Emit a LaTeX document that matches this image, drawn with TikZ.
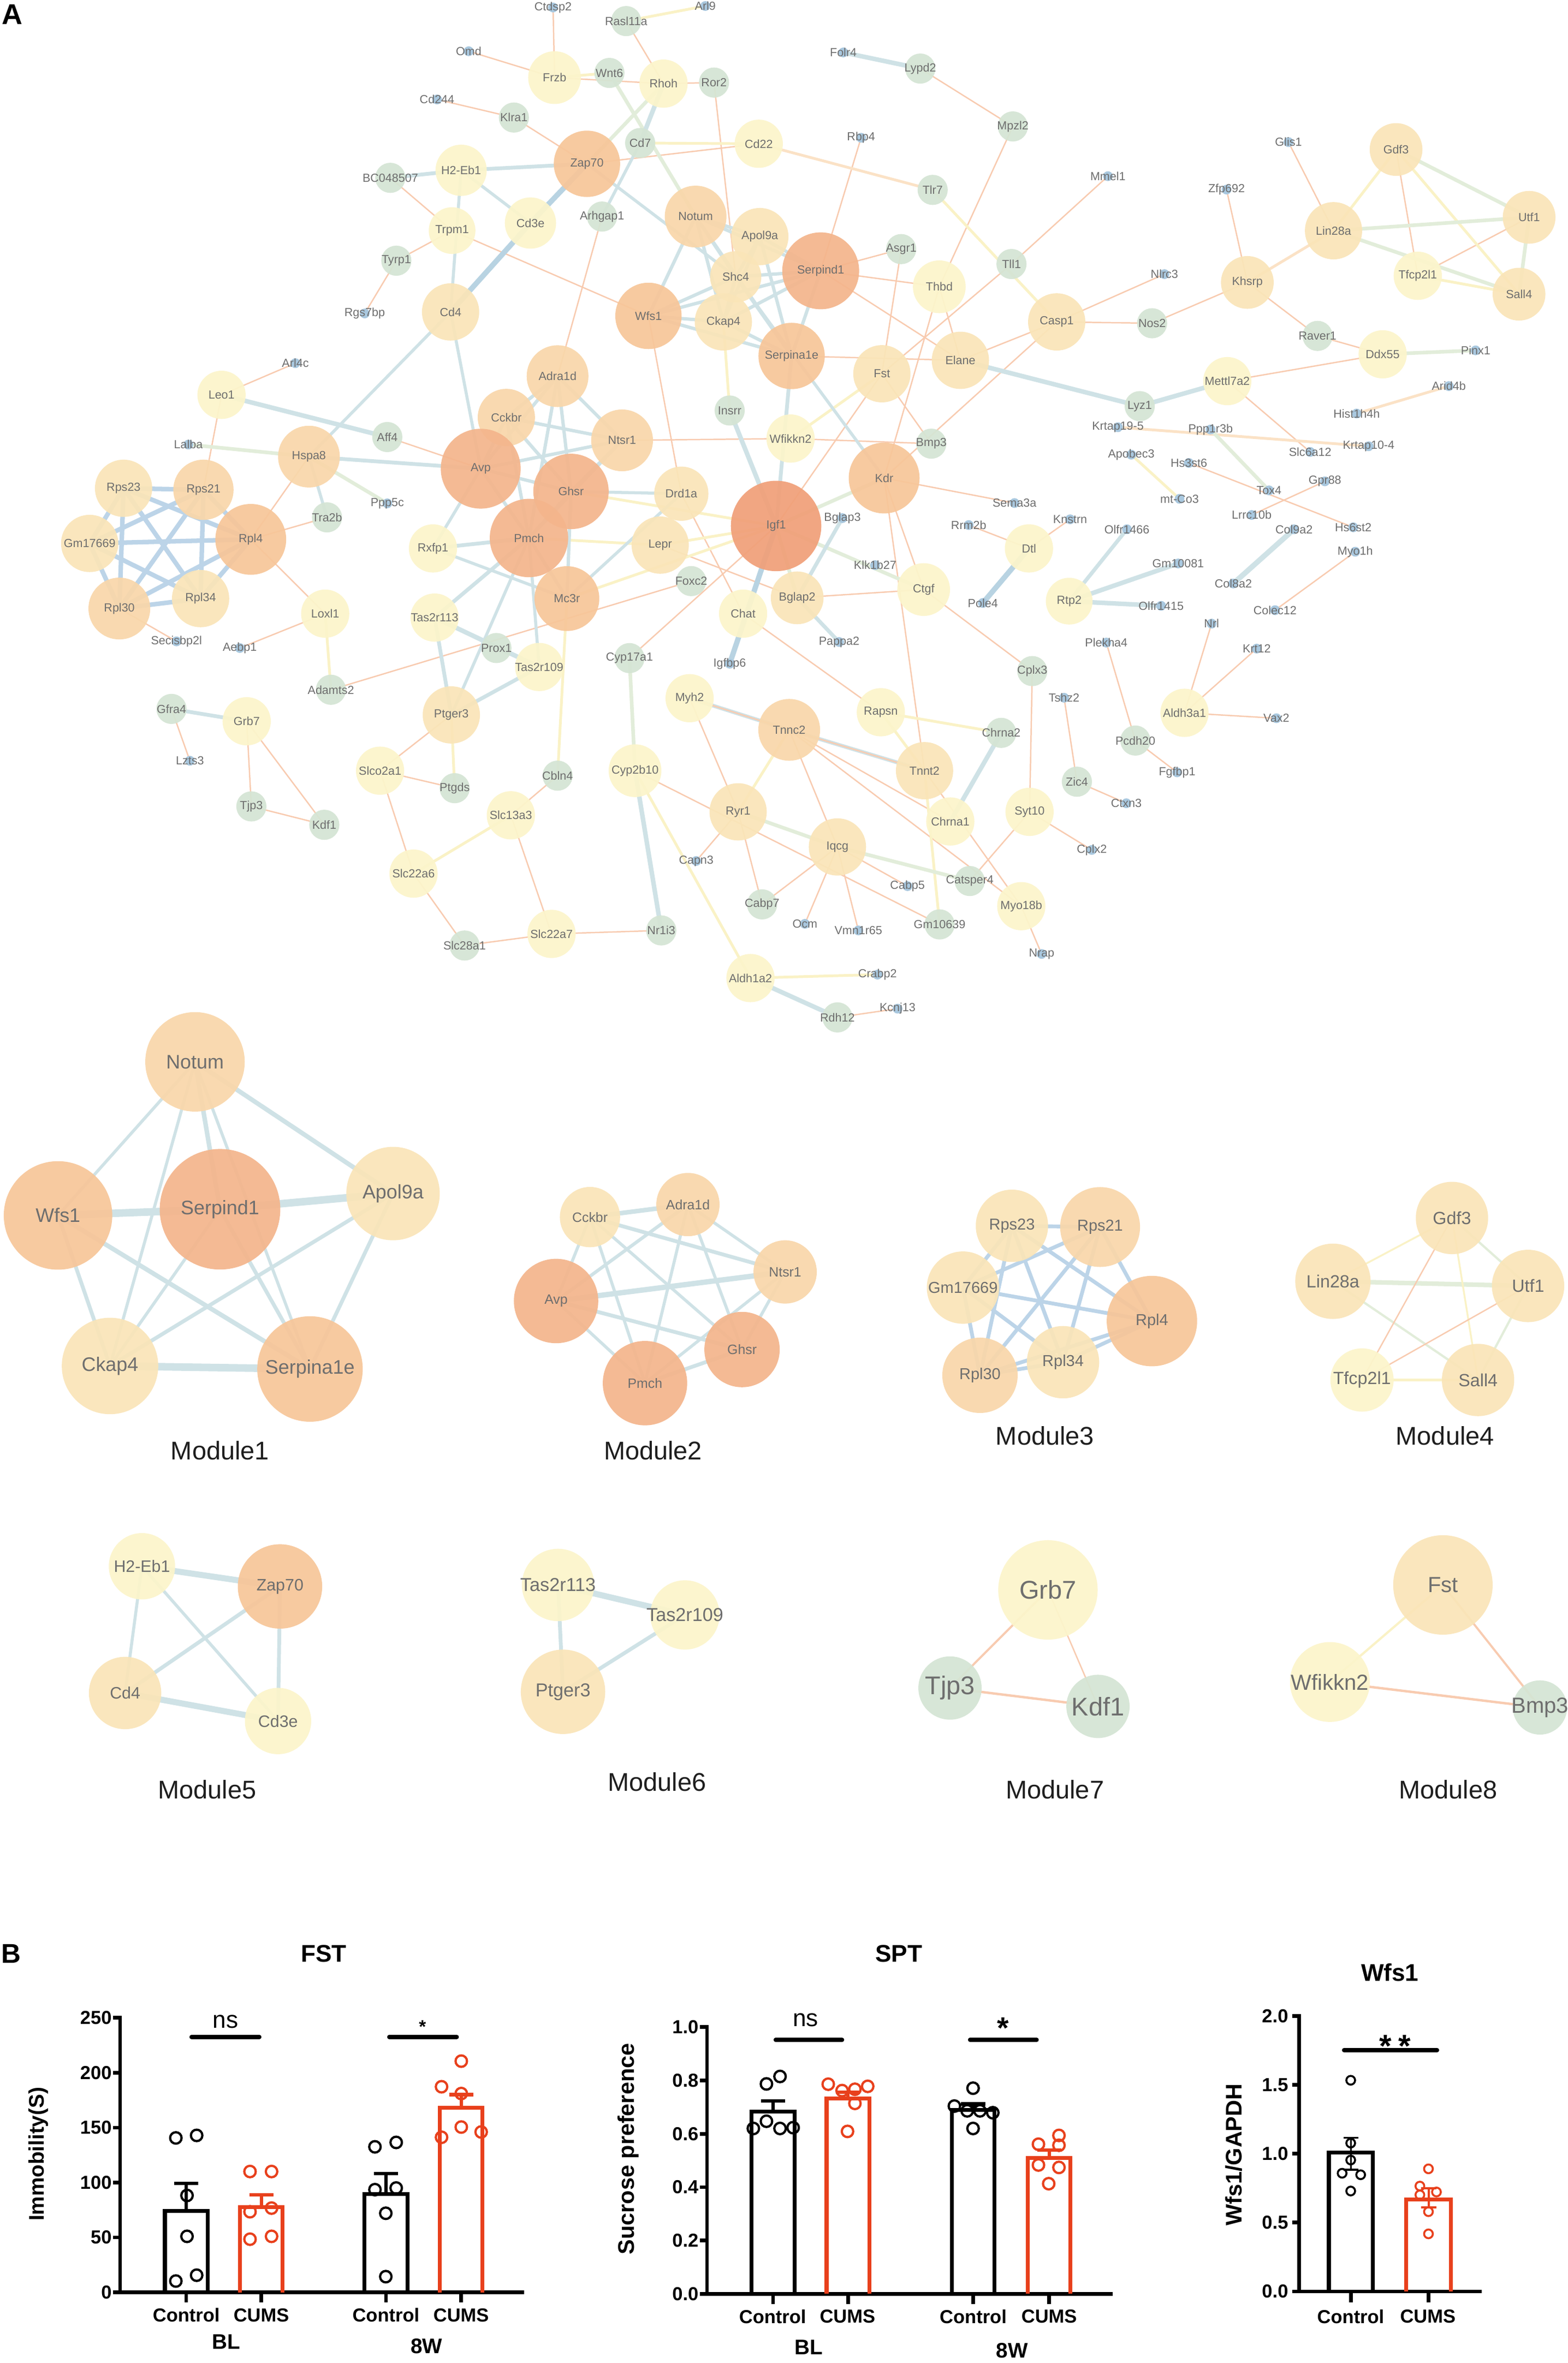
\documentclass[tikz,border=0pt]{standalone}
\usepackage{fontspec}
\setmainfont{Liberation Sans}
\pgfdeclarelayer{bgw}
\pgfdeclarelayer{edges}
\pgfsetlayers{bgw,edges,main}
\definecolor{lab}{HTML}{6E6E6E}
\definecolor{cO1}{HTML}{F1A079}
\definecolor{cO2}{HTML}{F4B58C}
\definecolor{cO3}{HTML}{F7C699}
\definecolor{cO4}{HTML}{F9D7AA}
\definecolor{cY1}{HTML}{FAE5B8}
\definecolor{cY2}{HTML}{FCF5CB}
\definecolor{cGR}{HTML}{D5E5D4}
\definecolor{cBD}{HTML}{A9C8DF}
\definecolor{cEB}{HTML}{CFE2E6}
\definecolor{cEBD}{HTML}{B8D3E2}
\definecolor{cEBL}{HTML}{BCD4E8}
\definecolor{cEO}{HTML}{F8CBB0}
\definecolor{cEOY}{HTML}{FBE2C6}
\definecolor{cEY}{HTML}{FAF2C6}
\definecolor{cEG}{HTML}{E2EDDA}
\definecolor{cRed}{HTML}{E8401C}
\definecolor{ttl}{HTML}{1E1E1E}
\newcommand\netf{\fontsize{7.8}{8}\selectfont}
\newcommand\fsz[1]{\fontsize{#1}{#1}\selectfont}
\tikzset{
 gn/.style={circle, inner sep=0pt, draw=none, fill opacity=0.93},
 dotn/.style={circle, inner sep=0pt, minimum size=6.5pt, fill=cBD, draw=none},
 dl/.style={inner sep=0pt, text=lab, font=\netf},
 eo/.style={draw=cEO, line width=0.9pt},
 eoy/.style={draw=cEOY, line width=1.8pt},
 ey/.style={draw=cEY, line width=1.8pt},
 eg/.style={draw=cEG, line width=2.4pt},
 eb/.style={draw=cEB, line width=#1pt}, eb/.default=2,
 ebd/.style={draw=cEBD, line width=#1pt}, ebd/.default=3,
 ebl/.style={draw=cEBL, line width=#1pt}, ebl/.default=3,
 ax/.style={line width=2.4pt, black, line cap=rect},
 barK/.style={line width=2.6pt, black, line join=miter},
 barR/.style={line width=2.6pt, cRed, line join=miter},
 errK/.style={line width=2.2pt, black},
 errR/.style={line width=2.2pt, cRed},
 ptK/.style={line width=1.5pt, black},
 ptR/.style={line width=1.5pt, cRed},
 sig/.style={line width=2.8pt, line cap=round, black},
 tickl/.style={font=\bfseries\fsz{12.5}, anchor=east, inner sep=0pt},
 xl/.style={font=\bfseries\fsz{12.5}, inner sep=0pt},
 gl/.style={font=\bfseries\fsz{14}, inner sep=0pt},
 ttlf/.style={font=\bfseries\fsz{16}, inner sep=0pt},
 modt/.style={font=\fsz{17}, text=ttl, inner sep=0pt}
}
\newcommand\NN[6]{\node[gn,minimum size=#4pt,fill=#5] (#1) at (#2,#3) {}; \node[dl] (#1-t) at (#1) {#6};}
\newcommand\GG[4]{\NN{#1}{#2}{#3}{20}{cGR}{#4}}
\newcommand\DD[4]{\node[dotn] (#1) at (#2,#3) {}; \node[dl] (#1-t) at (#1) {#4};}
\newcommand\MM[7]{\node[gn,minimum size=#4pt,fill=#5] (#1) at (#2,#3) {}; \node[dl,font=\fsz{#7}] (#1-t) at (#1) {#6};}
\newcommand\EE[3]{\draw[#1] (#2.center) -- (#3.center);}
\newcommand\FY[1]{{1521.1-(#1)*0.7288}}
\newcommand\SY[1]{{1522.1-(#1)*177}}
\newcommand\WY[1]{{1520.5-(#1)*91.4}}
\begin{document}
\begin{tikzpicture}[x=1pt,y=-1pt]
\useasboundingbox (0,0) rectangle (1040.5,1568);
\begin{pgfonlayer}{bgw}
\fill[white] (0,0) rectangle (1040.5,1568);
\end{pgfonlayer}
\node[font=\bfseries\fsz{19}, inner sep=0pt] (labA) at (8.3,9.5) {A};
\node[font=\bfseries\fsz{18}, inner sep=0pt] (labB) at (7.5,1296.3) {B};
% ================= network nodes
\DD{Omd}{311}{34}{Omd}
\DD{Cd244}{290}{66}{Cd244}
\GG{Klra1}{341}{78}{Klra1}
\NN{H2Eb1}{306}{113}{34}{cY2}{H2-Eb1}
\GG{BC048507}{259}{118}{BC048507}
\NN{Trpm1}{300}{153}{31}{cY2}{Trpm1}
\NN{Cd3e}{352}{148}{34}{cY2}{Cd3e}
\GG{Tyrp1}{263}{173}{Tyrp1}
\DD{Rgs7bp}{242}{208}{Rgs7bp}
\NN{Cd4}{299}{207}{38}{cY1}{Cd4}
\DD{Arl4c}{196}{241}{Arl4c}
\NN{Leo1}{147}{262}{32}{cY2}{Leo1}
\DD{Lalba}{125}{295}{Lalba}
\GG{Aff4}{257}{290}{Aff4}
\NN{Hspa8}{205}{303}{41}{cO4}{Hspa8}
\NN{Cckbr}{336}{277}{38}{cO4}{Cckbr}
\NN{Avp}{319}{311}{53}{cO2}{Avp}
\NN{Rps23}{82}{324}{38}{cY1}{Rps23}
\NN{Rps21}{135}{325}{40}{cO4}{Rps21}
\DD{Ppp5c}{257}{334}{Ppp5c}
\DD{Ctdsp2}{367}{5}{Ctdsp2}
\DD{Arl9}{468}{4}{Arl9}
\GG{Rasl11a}{415.5}{14}{Rasl11a}
\NN{Frzb}{368}{51.5}{35}{cY2}{Frzb}
\GG{Wnt6}{404.4}{48.4}{Wnt6}
\NN{Rhoh}{440.3}{55.5}{32}{cY2}{Rhoh}
\GG{Ror2}{473.8}{54.8}{Ror2}
\DD{Folr4}{559.6}{34.8}{Folr4}
\GG{Lypd2}{610.7}{45.5}{Lypd2}
\GG{Mpzl2}{672.1}{83.9}{Mpzl2}
\GG{Cd7}{424.8}{94.9}{Cd7}
\NN{Cd22}{503.5}{95.4}{32}{cY2}{Cd22}
\DD{Rbp4}{571.4}{91.4}{Rbp4}
\NN{Zap70}{389.5}{108.7}{44}{cO3}{Zap70}
\GG{Tlr7}{618.9}{126}{Tlr7}
\GG{Arhgap1}{399.5}{143.7}{Arhgap1}
\NN{Notum}{461.6}{143.7}{41}{cO4}{Notum}
\NN{Apol9a}{504.2}{157}{38}{cY1}{Apol9a}
\NN{Shc4}{488.2}{183.7}{34}{cY1}{Shc4}
\NN{Serpind1}{544.6}{179.7}{51}{cO2}{Serpind1}
\GG{Asgr1}{598}{165.3}{Asgr1}
\GG{Tll1}{671.2}{175.2}{Tll1}
\NN{Thbd}{623.3}{190.3}{35}{cY2}{Thbd}
\NN{Wfs1}{430.3}{209.6}{44}{cO3}{Wfs1}
\NN{Ckap4}{480}{213.6}{38}{cY1}{Ckap4}
\NN{Casp1}{701.2}{213.6}{38}{cY1}{Casp1}
\NN{Serpina1e}{525.3}{236.2}{44}{cO3}{Serpina1e}
\NN{Fst}{585.2}{248}{38}{cY1}{Fst}
\NN{Elane}{637.3}{239.1}{38}{cY1}{Elane}
\NN{Adra1d}{370}{249.6}{41}{cO4}{Adra1d}
\GG{Insrr}{484.2}{272.4}{Insrr}
\NN{Wfikkn2}{524.6}{291}{32}{cY2}{Wfikkn2}
\NN{Ntsr1}{412.8}{292.2}{41}{cO4}{Ntsr1}
\GG{Bmp3}{618}{294.4}{Bmp3}
\NN{Kdr}{586.7}{317.2}{47}{cO3}{Kdr}
\NN{Ghsr}{378.9}{326.1}{50}{cO2}{Ghsr}
\NN{Drd1a}{452.1}{327.6}{36}{cY1}{Drd1a}
\DD{Sema3a}{673.2}{333.8}{Sema3a}
\NN{Igf1}{515}{349}{60}{cO1}{Igf1}
\DD{Bglap3}{559}{343.8}{Bglap3}
\DD{Mmel1}{735.2}{116.9}{Mmel1}
\DD{Glis1}{855}{94.3}{Glis1}
\NN{Gdf3}{926.4}{99.2}{35}{cY1}{Gdf3}
\DD{Zfp692}{813.9}{125.8}{Zfp692}
\NN{Lin28a}{884.9}{153.1}{38}{cY1}{Lin28a}
\NN{Utf1}{1014.7}{144.2}{35}{cY1}{Utf1}
\DD{Nlrc3}{772.7}{181.9}{Nlrc3}
\NN{Khsrp}{827.7}{187.4}{35}{cY1}{Khsrp}
\NN{Tfcp2l1}{940.8}{183}{32}{cY2}{Tfcp2l1}
\NN{Sall4}{1008}{195.2}{35}{cY1}{Sall4}
\GG{Nos2}{764.5}{214.5}{Nos2}
\GG{Raver1}{874.3}{222.9}{Raver1}
\NN{Ddx55}{917.5}{235.1}{32}{cY2}{Ddx55}
\DD{Pinx1}{979.2}{232.5}{Pinx1}
\NN{Mettl7a2}{814.4}{252.9}{32}{cY2}{Mettl7a2}
\DD{Arid4b}{961.4}{256.2}{Arid4b}
\GG{Lyz1}{756.3}{269.5}{Lyz1}
\DD{Hist1h4h}{900.2}{274.4}{Hist1h4h}
\DD{Krtap195}{741.8}{283.5}{Krtap19-5}
\DD{Ppp1r3b}{803.3}{285}{Ppp1r3b}
\DD{Krtap104}{908.2}{296.1}{Krtap10-4}
\DD{Slc6a12}{869.4}{299.9}{Slc6a12}
\DD{Apobec3}{750.7}{301.7}{Apobec3}
\DD{Hs3st6}{788.9}{307.2}{Hs3st6}
\DD{Gpr88}{879.2}{319.4}{Gpr88}
\DD{Tox4}{842.1}{325.4}{Tox4}
\DD{mtCo3}{782.7}{331}{mt-Co3}
\DD{Lrrc10b}{830.6}{341.7}{Lrrc10b}
\DD{Knstrn}{710.1}{344.6}{Knstrn}
\DD{Olfr1466}{747.8}{351.2}{Olfr1466}
\DD{Col9a2}{858.7}{351.2}{Col9a2}
\DD{Hs6st2}{898}{349.9}{Hs6st2}
\DD{Myo1h}{899.3}{366.1}{Myo1h}
\DD{Gm10081}{781.8}{373.9}{Gm10081}
\DD{Col8a2}{818.4}{387.2}{Col8a2}
\NN{Rtp2}{709.5}{398.9}{31}{cY2}{Rtp2}
\DD{Olfr1415}{770.5}{402}{Olfr1415}
\DD{Colec12}{846.1}{404.9}{Colec12}
\DD{Nrl}{804}{413.8}{Nrl}
\DD{Plekha4}{734.1}{426.4}{Plekha4}
\DD{Krt12}{833.9}{430.4}{Krt12}
\DD{Tshz2}{706.1}{463}{Tshz2}
\NN{Aldh3a1}{786}{473}{32}{cY2}{Aldh3a1}
\DD{Vax2}{847}{476.6}{Vax2}
\GG{Pcdh20}{753.4}{491.4}{Pcdh20}
\DD{Fgfbp1}{781.1}{512.5}{Fgfbp1}
\GG{Zic4}{714.6}{518.7}{Zic4}
\DD{Ctxn3}{747.4}{533}{Ctxn3}
\DD{Cplx2}{724.5}{564}{Cplx2}
\GG{Tra2b}{217}{343.3}{Tra2b}
\NN{Gm17669}{59.5}{360.6}{38}{cY1}{Gm17669}
\NN{Rpl4}{166.4}{357.9}{47}{cO3}{Rpl4}
\NN{Rxfp1}{287.3}{363.9}{32}{cY2}{Rxfp1}
\NN{Pmch}{351}{357}{52}{cO2}{Pmch}
\NN{Rpl30}{79.2}{403.8}{41}{cO4}{Rpl30}
\NN{Rpl34}{133.1}{397.2}{38}{cY1}{Rpl34}
\NN{Loxl1}{215.8}{407.2}{32}{cY2}{Loxl1}
\NN{Tas2r113}{288.4}{409.8}{32}{cY2}{Tas2r113}
\DD{Secisbp2l}{117.1}{425.6}{Secisbp2l}
\DD{Aebp1}{159.1}{430}{Aebp1}
\GG{Prox1}{329.4}{430}{Prox1}
\NN{Tas2r109}{357.8}{442.6}{32}{cY2}{Tas2r109}
\GG{Adamts2}{219.6}{457.7}{Adamts2}
\GG{Gfra4}{113.8}{470.4}{Gfra4}
\NN{Grb7}{163.7}{478.6}{32}{cY2}{Grb7}
\NN{Ptger3}{299.5}{474.4}{38}{cY1}{Ptger3}
\DD{Lzts3}{126}{504.8}{Lzts3}
\NN{Slco2a1}{252.2}{511.4}{32}{cY2}{Slco2a1}
\GG{Ptgds}{301.7}{523}{Ptgds}
\GG{Tjp3}{166.8}{535.1}{Tjp3}
\GG{Kdf1}{215.2}{547.3}{Kdf1}
\NN{Slc13a3}{339}{541}{32}{cY2}{Slc13a3}
\NN{Slc22a6}{274.4}{579.7}{32}{cY2}{Slc22a6}
\GG{Slc28a1}{308.3}{627.4}{Slc28a1}
\DD{Rrm2b}{642.8}{348.4}{Rrm2b}
\NN{Dtl}{682.8}{363.9}{32}{cY2}{Dtl}
\NN{Lepr}{438.1}{361.7}{38}{cY1}{Lepr}
\GG{Foxc2}{458.7}{385.6}{Foxc2}
\DD{Klk1b27}{580.7}{375}{Klk1b27}
\NN{Mc3r}{376.2}{397.2}{43}{cO3}{Mc3r}
\NN{Bglap2}{529}{396.7}{35}{cY1}{Bglap2}
\NN{Ctgf}{612.9}{391.2}{35}{cY2}{Ctgf}
\NN{Chat}{493.1}{407.2}{32}{cY2}{Chat}
\DD{Pole4}{652.2}{400.1}{Pole4}
\DD{Pappa2}{556.8}{426}{Pappa2}
\GG{Cyp17a1}{417.7}{436.7}{Cyp17a1}
\DD{Igfbp6}{484.2}{440.4}{Igfbp6}
\GG{Cplx3}{685}{445.3}{Cplx3}
\NN{Myh2}{457.6}{463.3}{32}{cY2}{Myh2}
\NN{Rapsn}{584.5}{472.6}{32}{cY2}{Rapsn}
\NN{Tnnc2}{523.7}{484.3}{41}{cO4}{Tnnc2}
\GG{Chrna2}{664.4}{486.3}{Chrna2}
\NN{Tnnt2}{613.5}{511.4}{38}{cY1}{Tnnt2}
\GG{Cbln4}{370}{514.7}{Cbln4}
\NN{Cyp2b10}{421.4}{511.4}{35}{cY2}{Cyp2b10}
\NN{Syt10}{683.2}{538.7}{32}{cY2}{Syt10}
\NN{Ryr1}{489.8}{538.7}{38}{cY1}{Ryr1}
\NN{Chrna1}{630.6}{545.1}{32}{cY2}{Chrna1}
\NN{Iqcg}{555.7}{562}{38}{cY1}{Iqcg}
\DD{Capn3}{462}{571.3}{Capn3}
\GG{Catsper4}{643.5}{584.6}{Catsper4}
\DD{Cabp5}{602.2}{588}{Cabp5}
\NN{Myo18b}{677.7}{601.3}{32}{cY2}{Myo18b}
\GG{Cabp7}{505.7}{600.1}{Cabp7}
\DD{Ocm}{534.1}{613}{Ocm}
\GG{Gm10639}{623.5}{613.4}{Gm10639}
\DD{Vmn1r65}{569.6}{617.4}{Vmn1r65}
\NN{Slc22a7}{366}{619.7}{32}{cY2}{Slc22a7}
\GG{Nr1i3}{438.8}{617.4}{Nr1i3}
\DD{Nrap}{691.2}{633}{Nrap}
\NN{Aldh1a2}{498}{649}{32}{cY2}{Aldh1a2}
\DD{Crabp2}{582.3}{646.7}{Crabp2}
\DD{Kcnj13}{595.6}{669.3}{Kcnj13}
\GG{Rdh12}{555.7}{675.1}{Rdh12}
% ================= modules
\MM{mNotum}{129.4}{704.6}{66}{cO4}{Notum}{13}
\MM{mWfs1}{38.5}{806.5}{72}{cO3}{Wfs1}{13}
\MM{mSerpind1}{146}{802.4}{80}{cO2}{Serpind1}{13}
\MM{mApol9a}{260.8}{792}{62}{cY1}{Apol9a}{13}
\MM{mCkap4}{73}{906.4}{64}{cY1}{Ckap4}{13}
\MM{mSerpina1e}{205.7}{908.4}{70}{cO3}{Serpina1e}{13}
\node[modt] (mod1) at (146,962.5) {Module1};
\MM{mCckbr}{391.5}{807.6}{40}{cY1}{Cckbr}{9}
\MM{mAdra1d}{456.5}{799.3}{42}{cO4}{Adra1d}{9}
\MM{mNtsr1}{521}{844}{42}{cO4}{Ntsr1}{9}
\MM{mAvp}{369}{863.3}{56}{cO2}{Avp}{9}
\MM{mGhsr}{492.4}{895.5}{50}{cO2}{Ghsr}{9}
\MM{mPmch}{428}{917.8}{56}{cO2}{Pmch}{9}
\node[modt] (mod2) at (433.3,962.5) {Module2};
\MM{mGm17669}{639}{854.4}{48}{cY1}{Gm17669}{10.5}
\MM{mRps23}{671.5}{813.4}{48}{cY1}{Rps23}{10.5}
\MM{mRps21}{730}{814.2}{53}{cO4}{Rps21}{10.5}
\MM{mRpl4}{764.4}{876.6}{60}{cO3}{Rpl4}{10.5}
\MM{mRpl34}{705.4}{903.9}{48}{cY1}{Rpl34}{10.5}
\MM{mRpl30}{650.3}{912.6}{50}{cO4}{Rpl30}{10.5}
\node[modt] (mod3) at (693.4,952.8) {Module3};
\MM{mGdf3}{963.5}{808.2}{48}{cY1}{Gdf3}{11.7}
\MM{mLin28a}{884.5}{850.2}{50}{cY1}{Lin28a}{11.7}
\MM{mUtf1}{1014}{853.3}{48}{cY1}{Utf1}{11.7}
\MM{mTfcp2l1}{903.8}{915.7}{42}{cY2}{Tfcp2l1}{11.7}
\MM{mSall4}{980.8}{915.7}{48}{cY1}{Sall4}{11.7}
\node[modt] (mod4) at (958.9,952.8) {Module4};
\MM{mH2Eb1}{94.2}{1039.3}{44}{cY2}{H2-Eb1}{11}
\MM{mZap70}{185.8}{1052.7}{56}{cO3}{Zap70}{11}
\MM{mCd4}{83}{1123.4}{48}{cY1}{Cd4}{11}
\MM{mCd3e}{184.5}{1142}{44}{cY2}{Cd3e}{11}
\node[modt] (mod5) at (137.4,1187.3) {Module5};
\MM{mTas2r113}{370.3}{1051.7}{48}{cY2}{Tas2r113}{12.4}
\MM{mTas2r109}{454.5}{1071.6}{46}{cY2}{Tas2r109}{12.4}
\MM{mPtger3}{373.6}{1122.6}{56}{cY1}{Ptger3}{12.4}
\node[modt] (mod6) at (436,1182.4) {Module6};
\MM{mGrb7}{695.4}{1055}{66}{cY2}{Grb7}{17}
\MM{mTjp3}{630.4}{1120.1}{42}{cGR}{Tjp3}{17}
\MM{mKdf1}{728.6}{1132.3}{42}{cGR}{Kdf1}{17}
\node[modt] (mod7) at (700,1187.3) {Module7};
\MM{mFst}{957.5}{1051.7}{66}{cY1}{Fst}{14.5}
\MM{mWfikkn2}{882.5}{1116.1}{53}{cY2}{Wfikkn2}{14.5}
\MM{mBmp3}{1021.9}{1133}{36}{cGR}{Bmp3}{14.5}
\node[modt] (mod8) at (961,1187.3) {Module8};
% ================= edges
\begin{pgfonlayer}{edges}
% orange
\foreach \p/\q in {Omd/Frzb, Cd244/Klra1, Klra1/Zap70, BC048507/Trpm1, Trpm1/Tyrp1, Tyrp1/Rgs7bp, Trpm1/Wfs1, Arl4c/Leo1, Aff4/Avp, Leo1/Rps21, Hspa8/Rpl4, Ctdsp2/Frzb, Rasl11a/Rhoh, Frzb/Rhoh, Rhoh/Ror2, Ror2/Shc4, Zap70/Cd22, Lypd2/Mpzl2, Mpzl2/Thbd, Rbp4/Serpind1, Mmel1/Tll1, Tll1/Fst, Arhgap1/Adra1d, Serpind1/Asgr1, Serpind1/Thbd, Serpind1/Elane, Asgr1/Fst, Thbd/Elane, Thbd/Kdr, Elane/Casp1, Serpina1e/Elane, Fst/Bmp3, Wfikkn2/Bmp3, Fst/Igf1, Casp1/Kdr, Ntsr1/Wfikkn2, Wfs1/Drd1a, Kdr/Sema3a, Adamts2/Foxc2, Igf1/Cyp17a1, Lepr/Bglap2, Drd1a/Chat, Bglap2/Ctgf, Ctgf/Cplx3, Kdr/Tnnt2, Kdr/Ctgf, Rrm2b/Dtl, Knstrn/Dtl, Chat/Rapsn, Myh2/Ryr1, Tnnc2/Iqcg, Tnnc2/Chrna1, Tnnc2/Myo18b, Tnnt2/Myo18b, Cplx3/Syt10, Syt10/Catsper4, Cyp2b10/Gm10639, Cbln4/Slc13a3, Ryr1/Capn3, Ryr1/Cabp7, Iqcg/Cabp7, Iqcg/Ocm, Iqcg/Cabp5, Myo18b/Nrap, Slc22a7/Nr1i3, Slc13a3/Slc22a7, Rdh12/Kcnj13, Glis1/Lin28a, Zfp692/Khsrp, Gdf3/Tfcp2l1, Utf1/Tfcp2l1, Khsrp/Nos2, Casp1/Nos2, Casp1/Nlrc3, Khsrp/Raver1, Raver1/Ddx55, Ddx55/Mettl7a2, Mettl7a2/Slc6a12, Hs3st6/Hs6st2, Gpr88/Lrrc10b, Myo1h/Colec12, Nrl/Aldh3a1, Krt12/Aldh3a1, Aldh3a1/Vax2, Plekha4/Pcdh20, Pcdh20/Fgfbp1, Tshz2/Zic4, Zic4/Ctxn3, Syt10/Cplx2, Loxl1/Rpl4, Loxl1/Aebp1, Rpl4/Tra2b, Rpl30/Secisbp2l, Gfra4/Lzts3, Grb7/Tjp3, Grb7/Kdf1, Tjp3/Kdf1, Ptger3/Slco2a1, Slco2a1/Ptgds, Slco2a1/Slc22a6, Slc22a6/Slc28a1, Slc28a1/Slc22a7, Iqcg/Vmn1r65} {\EE{eo}{\p}{\q}}
\foreach \p/\q in {Hist1h4h/Arid4b, Krtap195/Krtap104, Khsrp/Lin28a, Cd22/Tlr7} {\EE{eoy}{\p}{\q}}
% yellow
\foreach \p/\q in {Rasl11a/Arl9, Frzb/Wnt6, Cd7/Cd22, Tlr7/Casp1, Ckap4/Insrr, Fst/Wfikkn2, Pmch/Lepr, Lepr/Igf1, Mc3r/Igf1, Rapsn/Chrna2, Rapsn/Tnnt2, Tnnt2/Gm10639, Tnnc2/Ryr1, Cyp2b10/Aldh1a2, Mc3r/Cbln4, Aldh1a2/Crabp2, Loxl1/Adamts2, Ptger3/Ptgds, Slc22a6/Slc13a3, Apobec3/mtCo3, Lin28a/Gdf3, Gdf3/Sall4, Tfcp2l1/Sall4, Ghsr/Igf1} {\EE{ey}{\p}{\q}}
% green
\foreach \p/\q in {Lalba/Hspa8, Hspa8/Ppp5c, Wnt6/Notum, Rhoh/Zap70, Kdr/Igf1, Igf1/Bglap2, Igf1/Ctgf, Ryr1/Iqcg, Iqcg/Catsper4, Cyp17a1/Cyp2b10, Ddx55/Pinx1, Lin28a/Utf1, Lin28a/Sall4, Gdf3/Utf1, Utf1/Sall4, Ppp1r3b/Tox4} {\EE{eg}{\p}{\q}}
% blue-grey
\foreach \p/\q/\w in {BC048507/H2Eb1/2.5, H2Eb1/Zap70/2.5, H2Eb1/Cd3e/2, H2Eb1/Cd4/2, Cd4/Hspa8/2, Cd4/Avp/2, Leo1/Aff4/3, Hspa8/Avp/2.5, Hspa8/Tra2b/2, Rhoh/Cd7/3, Cd7/Arhgap1/2, Zap70/Shc4/2, Folr4/Lypd2/3, Elane/Lyz1/3, Insrr/Igf1/3, Serpina1e/Igf1/2.5, Shc4/Kdr/2, Ghsr/Drd1a/2, Mettl7a2/Lyz1/3, Col9a2/Col8a2/3.5, Rtp2/Olfr1466/2.5, Rtp2/Gm10081/3, Rtp2/Olfr1415/3, Gfra4/Grb7/2.5, Tas2r113/Tas2r109/3, Tas2r113/Ptger3/2.5, Tas2r109/Ptger3/2.5, Pmch/Ptger3/2, Rxfp1/Pmch/2.5, Rxfp1/Mc3r/2, Rxfp1/Avp/2, Tas2r113/Pmch/2.5, Tas2r113/Prox1/2, Prox1/Tas2r109/2, Pmch/Tas2r109/2, Mc3r/Drd1a/2, Bglap3/Bglap2/2.5, Bglap2/Pappa2/2.5, Myh2/Tnnc2/2.5, Tnnc2/Tnnt2/2.5, Chrna2/Chrna1/3, Cyp2b10/Nr1i3/3, Aldh1a2/Rdh12/3} {\EE{eb=\w}{\p}{\q}}
\foreach \p/\q in {Cd3e/Cd4, Zap70/Cd3e, Igf1/Igfbp6, Dtl/Pole4} {\EE{ebd=3.5}{\p}{\q}}
\foreach \p/\q in {Notum/Wfs1, Notum/Shc4, Notum/Apol9a, Notum/Ckap4, Notum/Serpina1e, Notum/Serpind1, Apol9a/Serpind1, Apol9a/Shc4, Apol9a/Serpina1e, Apol9a/Ckap4, Wfs1/Shc4, Wfs1/Ckap4, Wfs1/Serpind1, Wfs1/Serpina1e, Ckap4/Serpind1, Ckap4/Serpina1e, Serpind1/Serpina1e, Shc4/Serpind1, Shc4/Ckap4, Shc4/Serpina1e, Avp/Cckbr, Avp/Adra1d, Avp/Ntsr1, Avp/Ghsr, Avp/Pmch, Cckbr/Adra1d, Cckbr/Ntsr1, Cckbr/Ghsr, Cckbr/Pmch, Adra1d/Ntsr1, Adra1d/Ghsr, Adra1d/Pmch, Ntsr1/Ghsr, Ntsr1/Pmch, Ghsr/Pmch, Ghsr/Mc3r, Pmch/Mc3r} {\EE{eb=2.2}{\p}{\q}}
\foreach \p/\q in {Rps23/Rps21, Rps23/Gm17669, Rps23/Rpl4, Rps23/Rpl30, Rps23/Rpl34, Rps21/Gm17669, Rps21/Rpl4, Rps21/Rpl30, Rps21/Rpl34, Gm17669/Rpl4, Gm17669/Rpl30, Gm17669/Rpl34, Rpl4/Rpl30, Rpl4/Rpl34, Rpl30/Rpl34} {\EE{ebl=3}{\p}{\q}}
\foreach \p/\q in {Myh2/Tnnc2, Tnnc2/Tnnt2} {\EE{eo}{\p}{\q}}
% modules
\foreach \p/\q/\w in {mNotum/mWfs1/2, mNotum/mSerpind1/3, mNotum/mApol9a/3, mNotum/mCkap4/2, mNotum/mSerpina1e/2, mWfs1/mSerpind1/5, mSerpind1/mApol9a/5, mWfs1/mCkap4/2.5, mWfs1/mSerpina1e/3, mSerpind1/mCkap4/2, mSerpind1/mSerpina1e/2.5, mApol9a/mCkap4/2.5, mApol9a/mSerpina1e/2.5, mCkap4/mSerpina1e/5} {\EE{eb=\w}{\p}{\q}}
\foreach \p/\q/\w in {mAvp/mCckbr/2, mAvp/mAdra1d/2.2, mAvp/mNtsr1/3.5, mAvp/mGhsr/2.5, mAvp/mPmch/2, mCckbr/mAdra1d/3, mCckbr/mNtsr1/2.5, mCckbr/mGhsr/2, mCckbr/mPmch/2, mAdra1d/mNtsr1/2, mAdra1d/mGhsr/2, mAdra1d/mPmch/2, mNtsr1/mGhsr/2, mNtsr1/mPmch/2, mGhsr/mPmch/2.5} {\EE{eb=\w}{\p}{\q}}
\foreach \p/\q in {mRps23/mRps21, mRps23/mGm17669, mRps23/mRpl4, mRps23/mRpl30, mRps23/mRpl34, mRps21/mGm17669, mRps21/mRpl4, mRps21/mRpl30, mRps21/mRpl34, mGm17669/mRpl4, mGm17669/mRpl30, mGm17669/mRpl34, mRpl4/mRpl30, mRpl4/mRpl34, mRpl30/mRpl34} {\EE{ebl=2.5}{\p}{\q}}
\EE{eg, line width=3pt}{mLin28a}{mUtf1}
\EE{ey, line width=1.2pt}{mLin28a}{mGdf3}
\EE{eg, line width=1.5pt}{mLin28a}{mSall4}
\EE{eo}{mGdf3}{mTfcp2l1}
\EE{ey, line width=1.2pt}{mGdf3}{mSall4}
\EE{eg, line width=1.5pt}{mGdf3}{mUtf1}
\EE{eo}{mUtf1}{mTfcp2l1}
\EE{eg, line width=1.5pt}{mUtf1}{mSall4}
\EE{ey, line width=2pt}{mTfcp2l1}{mSall4}
\EE{eb=4}{mH2Eb1}{mZap70}
\EE{eb=2}{mH2Eb1}{mCd4}
\EE{eb=2}{mH2Eb1}{mCd3e}
\EE{eb=2.5}{mZap70}{mCd4}
\EE{eb=2.5}{mZap70}{mCd3e}
\EE{eb=4}{mCd4}{mCd3e}
\EE{eb=4}{mTas2r113}{mTas2r109}
\EE{eb=2.5}{mTas2r113}{mPtger3}
\EE{eb=2.5}{mTas2r109}{mPtger3}
\EE{eo, line width=1.4pt}{mGrb7}{mTjp3}
\EE{eo}{mGrb7}{mKdf1}
\EE{eo, line width=1.6pt}{mTjp3}{mKdf1}
\EE{ey, line width=1.5pt}{mFst}{mWfikkn2}
\EE{eo, line width=1.4pt}{mFst}{mBmp3}
\EE{eo, line width=1.6pt}{mWfikkn2}{mBmp3}
\end{pgfonlayer}
% ================= FST
\node[ttlf] (fstT) at (214.9,1296.2) {FST};
\node[gl, rotate=90] (fstY) at (25.4,1429.4) {Immobility(S)};
\draw[ax] (79.7,1338.9) -- (79.7,1521.1) -- (346.6,1521.1);
\foreach \v [count=\i] in {0,50,100,150,200,250} {\draw[ax] (76.2,\FY{\v}) -- (79.7,\FY{\v}); \node[tickl] (fstt\i) at (74.3,\FY{\v}) {\v};}
\foreach \c in {123.6,173.4,256.1,306} {\draw[ax] (\c,1521.1) -- (\c,1526.5);}
\draw[barK] (109.4,1521.1) |- (137.8,\FY{74}) -- (137.8,1521.1);
\draw[barR] (159.2,1521.1) |- (187.6,\FY{77.5}) -- (187.6,1521.1);
\draw[barK] (241.9,1521.1) |- (270.3,\FY{89.6}) -- (270.3,1521.1);
\draw[barR] (291.8,1521.1) |- (320.2,\FY{168}) -- (320.2,1521.1);
\draw[errK] (123.6,\FY{74}) -- (123.6,\FY{99}) (115.6,\FY{99}) -- (131.6,\FY{99});
\draw[errR] (173.4,\FY{77.5}) -- (173.4,\FY{89}) (165.4,\FY{89}) -- (181.4,\FY{89});
\draw[errK] (256.1,\FY{89.6}) -- (256.1,\FY{108}) (248.1,\FY{108}) -- (264.1,\FY{108});
\draw[errR] (306,\FY{168}) -- (306,\FY{180}) (298,\FY{180}) -- (314,\FY{180});
\foreach \px/\v in {116.7/140.6, 130.5/142.9, 124.1/88.2, 124.1/51, 116.7/10.3, 130.5/15.6, 248.8/132.5, 262.9/136.5, 248.8/93.5, 262.9/95, 256/72, 256/14.3} {\draw[ptK] (\px,\FY{\v}) circle (3.8pt);}
\foreach \px/\v in {165.9/110, 180.2/110, 165.9/73.4, 180.2/76.7, 165.9/48.4, 180.2/51, 306.1/210.5, 293/187.2, 306.1/181, 293/141.2, 306.1/150.5, 319.3/146} {\draw[ptR] (\px,\FY{\v}) circle (3.8pt);}
\draw[sig] (127.1,1351.6) -- (172.1,1351.6);
\draw[sig] (258.3,1351.6) -- (303.1,1351.6);
\node[font=\fsz{16}, inner sep=0pt] (fstns) at (149.7,1341.5) {ns};
\node[font=\bfseries\fsz{12}, inner sep=0pt] (fststar) at (280.3,1345) {*};
\node[xl] (fstc1) at (123.6,1536.2) {Control};
\node[xl] (fstu1) at (173.4,1536.2) {CUMS};
\node[xl] (fstc2) at (256.1,1536.2) {Control};
\node[xl] (fstu2) at (306,1536.2) {CUMS};
\node[gl] (fstbl) at (150.2,1553.8) {BL};
\node[gl] (fst8w) at (283,1556.7) {8W};
% ================= SPT
\node[ttlf] (sptT) at (596.4,1296.2) {SPT};
\node[gl, font=\bfseries\fsz{15}, rotate=90] (sptY) at (417,1425.9) {Sucrose preference};
\draw[ax] (469.1,1345.1) -- (469.1,1522.1) -- (737.1,1522.1);
\foreach \v/\t [count=\i] in {0/0.0,0.2/0.2,0.4/0.4,0.6/0.6,0.8/0.8,1/1.0} {\draw[ax] (465.6,\SY{\v}) -- (469.1,\SY{\v}); \node[tickl] (sptt\i) at (463.7,\SY{\v}) {\t};}
\foreach \c in {513,562.7,645.8,696.2} {\draw[ax] (\c,1522.1) -- (\c,1527.5);}
\draw[barK] (498.7,1522.1) |- (527.4,\SY{0.684}) -- (527.4,1522.1);
\draw[barR] (548.5,1522.1) |- (576.9,\SY{0.733}) -- (576.9,1522.1);
\draw[barK] (631.7,1522.1) |- (659.9,\SY{0.69}) -- (659.9,1522.1);
\draw[barR] (682,1522.1) |- (710.3,\SY{0.51}) -- (710.3,1522.1);
\draw[errK] (513,\SY{0.684}) -- (513,\SY{0.723}) (505,\SY{0.723}) -- (521,\SY{0.723});
\draw[errR] (562.7,\SY{0.733}) -- (562.7,\SY{0.756}) (554.7,\SY{0.756}) -- (570.7,\SY{0.756});
\draw[errK] (645.8,\SY{0.69}) -- (645.8,\SY{0.712}) (637.8,\SY{0.712}) -- (653.8,\SY{0.712});
\draw[errR] (696.2,\SY{0.51}) -- (696.2,\SY{0.54}) (688.2,\SY{0.54}) -- (704.2,\SY{0.54});
\foreach \px/\v in {499.9/0.620, 508.6/0.787, 517.6/0.815, 508.6/0.647, 517.6/0.620, 526.3/0.623, 645.7/0.771, 633.3/0.704, 641.8/0.686, 650.3/0.686, 658.8/0.679, 645.7/0.620} {\draw[ptK] (\px,\SY{\v}) circle (3.8pt);}
\foreach \px/\v in {549.6/0.786, 558.8/0.762, 567.3/0.767, 575.8/0.778, 567.3/0.714, 562.4/0.609, 702.7/0.594, 689.1/0.561, 702.7/0.557, 689.1/0.483, 702.7/0.474, 695.9/0.413} {\draw[ptR] (\px,\SY{\v}) circle (3.8pt);}
\draw[sig] (514.7,1353.6) -- (558.8,1353.6);
\draw[sig] (643.7,1353.6) -- (687.9,1353.6);
\node[font=\fsz{16}, inner sep=0pt] (sptns) at (534.5,1340.5) {ns};
\node[font=\bfseries\fsz{20}, inner sep=0pt] (sptstar) at (665.5,1345.7) {*};
\node[xl] (sptc1) at (512.7,1537.2) {Control};
\node[xl] (sptu1) at (562.4,1537.2) {CUMS};
\node[xl] (sptc2) at (645.8,1537.2) {Control};
\node[xl] (sptu2) at (696.2,1537.2) {CUMS};
\node[gl] (sptbl) at (536.5,1557.7) {BL};
\node[gl] (spt8w) at (671.6,1559.7) {8W};
% ================= Wfs1
\node[ttlf] (wT) at (922.3,1308.9) {Wfs1};
\node[gl, font=\bfseries\fsz{15}, rotate=90] (wY) at (818.8,1429.8) {Wfs1/GAPDH};
\draw[ax] (862.1,1337.7) -- (862.1,1520.5) -- (982.1,1520.5);
\foreach \v/\t [count=\i] in {0/0.0,0.5/0.5,1/1.0,1.5/1.5,2/2.0} {\draw[ax] (858.6,\WY{\v}) -- (862.1,\WY{\v}); \node[tickl] (wtt\i) at (855,\WY{\v}) {\t};}
\foreach \c in {896.5,948} {\draw[ax] (\c,1520.5) -- (\c,1526.5);}
\draw[barK] (881.8,1520.5) |- (911.1,\WY{1.008}) -- (911.1,1520.5);
\draw[barR] (933.1,1520.5) |- (962.8,\WY{0.668}) -- (962.8,1520.5);
\draw[line width=1.3pt, black] (896.5,\WY{0.883}) -- (896.5,\WY{1.115}) (891.5,\WY{1.115}) -- (901.5,\WY{1.115}) (891.5,\WY{0.883}) -- (901.5,\WY{0.883});
\draw[line width=1.3pt, cRed] (948,\WY{0.61}) -- (948,\WY{0.75}) (943,\WY{0.75}) -- (953,\WY{0.75}) (943,\WY{0.61}) -- (953,\WY{0.61});
\foreach \px/\v in {896.3/1.533, 896.3/1.077, 896.3/0.954, 890.6/0.858, 902.9/0.847, 896.3/0.729} {\draw[line width=1.3pt, black] (\px,\WY{\v}) circle (2.9pt);}
\foreach \px/\v in {947.9/0.890, 942.2/0.765, 953.2/0.722, 942.2/0.701, 947.9/0.579, 947.9/0.418} {\draw[line width=1.3pt, cRed] (\px,\WY{\v}) circle (2.9pt);}
\draw[sig] (891.9,1360.4) -- (953.6,1360.4);
\node[font=\bfseries\fsz{21}, inner sep=0pt] (wst1) at (919.4,1357.8) {*};
\node[font=\bfseries\fsz{21}, inner sep=0pt] (wst2) at (932.2,1357.8) {*};
\node[xl] (wc) at (896.3,1537.2) {Control};
\node[xl] (wu) at (947.5,1537.2) {CUMS};
\end{tikzpicture}
\end{document}
